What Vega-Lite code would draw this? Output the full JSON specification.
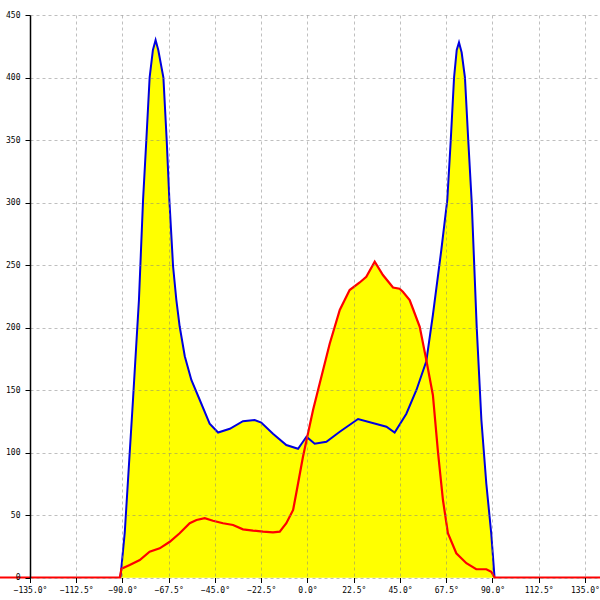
{
  "$schema": "https://vega.github.io/schema/vega-lite/v6.json",
  "autosize": "none",
  "width": 570,
  "height": 562.5,
  "padding": {"left": 30, "top": 15, "right": 0, "bottom": 22.5},
  "background": "white",
  "config": {"view": {"stroke": null}},
  "datasets": {
    "blue": [
      {"deg": -91, "val": 0}, {"deg": -88.9, "val": 36}, {"deg": -84.9, "val": 142}, {"deg": -82, "val": 222},
      {"deg": -80, "val": 302}, {"deg": -78.4, "val": 350}, {"deg": -76.8, "val": 400}, {"deg": -75.2, "val": 422},
      {"deg": -73.9, "val": 430}, {"deg": -72.6, "val": 422}, {"deg": -70.1, "val": 400}, {"deg": -68.5, "val": 350},
      {"deg": -67.2, "val": 302}, {"deg": -65.4, "val": 249}, {"deg": -63.8, "val": 222}, {"deg": -62.2, "val": 201},
      {"deg": -59.7, "val": 177}, {"deg": -56.5, "val": 158}, {"deg": -52.4, "val": 142}, {"deg": -47.6, "val": 123},
      {"deg": -43.5, "val": 116}, {"deg": -37.8, "val": 119}, {"deg": -31.4, "val": 125}, {"deg": -25.7, "val": 126},
      {"deg": -22.5, "val": 124}, {"deg": -16.8, "val": 115}, {"deg": -10.3, "val": 106}, {"deg": -4.6, "val": 103},
      {"deg": -2.2, "val": 108.6}, {"deg": -0.5, "val": 112.6}, {"deg": 3.5, "val": 107}, {"deg": 9.2, "val": 108.6},
      {"deg": 15.7, "val": 116.6}, {"deg": 24.6, "val": 126.8}, {"deg": 33.5, "val": 122.8}, {"deg": 38.4, "val": 120.6},
      {"deg": 42.4, "val": 116}, {"deg": 48.1, "val": 131}, {"deg": 53, "val": 150}, {"deg": 57.8, "val": 173},
      {"deg": 61, "val": 210}, {"deg": 65.1, "val": 262}, {"deg": 68, "val": 302}, {"deg": 69.7, "val": 350},
      {"deg": 71.3, "val": 400}, {"deg": 72.6, "val": 422}, {"deg": 73.7, "val": 428}, {"deg": 75, "val": 420},
      {"deg": 76.6, "val": 400}, {"deg": 78.2, "val": 350}, {"deg": 79.9, "val": 300}, {"deg": 82.3, "val": 201},
      {"deg": 84.6, "val": 126}, {"deg": 87, "val": 75}, {"deg": 89.4, "val": 35}, {"deg": 91, "val": 0}
    ],
    "red": [
      {"deg": -150, "val": 0}, {"deg": -91.3, "val": 0}, {"deg": -90.5, "val": 7}, {"deg": -86.5, "val": 10},
      {"deg": -81.6, "val": 14}, {"deg": -76.8, "val": 20.6}, {"deg": -71.9, "val": 23.3}, {"deg": -67, "val": 28.6},
      {"deg": -62.2, "val": 35.4}, {"deg": -57.3, "val": 43.4}, {"deg": -54, "val": 46}, {"deg": -50, "val": 47.4},
      {"deg": -46, "val": 45.4}, {"deg": -41.1, "val": 43.4}, {"deg": -36.2, "val": 42}, {"deg": -31.4, "val": 38.5},
      {"deg": -26.5, "val": 37.5}, {"deg": -21.6, "val": 36.7}, {"deg": -16.8, "val": 36.1}, {"deg": -13.5, "val": 36.7},
      {"deg": -10.3, "val": 43.4}, {"deg": -7, "val": 54}, {"deg": -5.4, "val": 68}, {"deg": -2.2, "val": 96.6},
      {"deg": 0.2, "val": 115}, {"deg": 2.7, "val": 134}, {"deg": 5.9, "val": 155}, {"deg": 10.8, "val": 187},
      {"deg": 15.7, "val": 214}, {"deg": 20.5, "val": 230}, {"deg": 25.4, "val": 236}, {"deg": 28.6, "val": 240.6},
      {"deg": 32.7, "val": 252.6}, {"deg": 36.7, "val": 242}, {"deg": 41.6, "val": 232}, {"deg": 44.8, "val": 231},
      {"deg": 46.4, "val": 228.6}, {"deg": 49.7, "val": 222}, {"deg": 51.3, "val": 215}, {"deg": 54.6, "val": 200.6},
      {"deg": 57.8, "val": 174}, {"deg": 61, "val": 146}, {"deg": 63.5, "val": 100}, {"deg": 65.9, "val": 62},
      {"deg": 68.3, "val": 35.4}, {"deg": 72.4, "val": 19.4}, {"deg": 77.3, "val": 11.4}, {"deg": 82.1, "val": 6.6},
      {"deg": 87, "val": 6.6}, {"deg": 89.4, "val": 4.6}, {"deg": 91, "val": 0}, {"deg": 150, "val": 0}
    ]
  },
  "encoding": {
    "x": {
      "field": "deg", "type": "quantitative",
      "scale": {"domain": [-135, 142.3], "nice": false, "zero": false},
      "axis": {
        "title": null,
        "values": [-135, -112.5, -90, -67.5, -45, -22.5, 0, 22.5, 45, 67.5, 90, 112.5, 135],
        "labelExpr": "format(datum.value, '.1f') + '°'",
        "labelFont": "DejaVu Sans Mono", "labelFontSize": 8, "labelColor": "black",
        "labelOverlap": false, "labelFlush": false, "labelPadding": 4,
        "tickSize": 5, "tickColor": "black", "tickWidth": 1,
        "domain": false,
        "grid": true, "gridDash": [3, 3], "gridColor": "#808080", "gridOpacity": 0.5,
        "zindex": 1
      }
    },
    "y": {
      "field": "val", "type": "quantitative",
      "scale": {"domain": [0, 450], "nice": false},
      "axis": {
        "title": null,
        "values": [0, 50, 100, 150, 200, 250, 300, 350, 400, 450],
        "labelFont": "DejaVu Sans Mono", "labelFontSize": 8, "labelColor": "black",
        "labelPadding": 5, "labelOverlap": false, "labelFlush": false,
        "tickSize": 5, "tickColor": "black", "tickWidth": 1,
        "domainColor": "black", "domainWidth": 1.5,
        "grid": true, "gridDash": [3, 3], "gridColor": "#808080", "gridOpacity": 0.5,
        "zindex": 1
      }
    }
  },
  "layer": [
    {"data": {"name": "blue"}, "mark": {"type": "area", "color": "#ffff00", "opacity": 1}},
    {"data": {"name": "red"}, "mark": {"type": "area", "color": "#ffff00", "opacity": 1}},
    {"data": {"name": "blue"}, "mark": {"type": "line", "color": "#0000e0", "strokeWidth": 2}},
    {"data": {"name": "red"}, "mark": {"type": "line", "color": "#ff0000", "strokeWidth": 2.2}}
  ]
}
